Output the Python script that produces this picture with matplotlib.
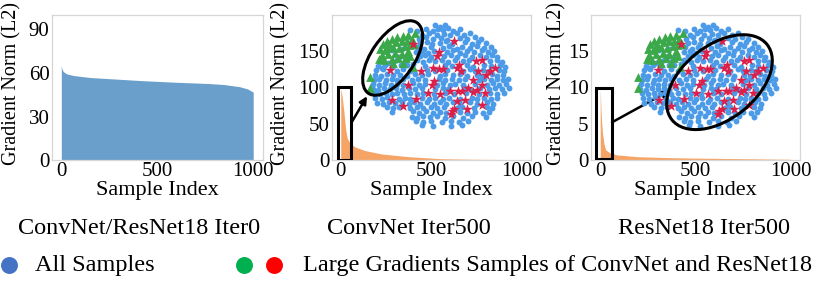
import matplotlib
matplotlib.use("Agg")
import matplotlib.pyplot as plt
from matplotlib.patches import Ellipse, Rectangle
import numpy as np

plt.rcParams['font.family'] = ['Liberation Serif', 'DejaVu Serif']

# ---------------- data ----------------
# Panel 1: sorted gradient norms at iteration 0 (ConvNet/ResNet18)
iter0_idx = [0, 3, 10, 28, 62, 149, 236, 410, 583, 757, 844, 930, 970, 999]
iter0_val = [65, 63, 61, 59.4, 58.3, 56.9, 56.2, 54.8, 53.7, 52.8, 52.1, 50.5, 49.0, 46.8]

# Panel 2: ConvNet iteration 500
conv_idx = [0, 2, 8, 18, 27, 36, 51, 79, 134, 226, 373, 557, 741, 999]
conv_val = [98, 96, 87, 65, 42, 30, 23, 18, 13, 8.3, 4.6, 1.8, 1.0, 0.5]

# Panel 3: ResNet18 iteration 500
res_idx = [0, 2, 4, 8, 12, 20, 29, 50, 88, 200, 400, 700, 999]
res_val = [9.8, 8.6, 7.0, 5.0, 3.7, 2.2, 1.4, 1.0, 0.7, 0.45, 0.3, 0.2, 0.1]

# t-SNE embedding of samples (shared by panels 2 and 3), arbitrary units
all_x = [226, 240, 256, 233,
         150, 172, 198, 218, 248, 264, 280, 300,
         186, 208, 230, 252, 270, 290, 312, 330,
         176, 197, 220, 243, 262, 300, 322, 344, 362,
         181, 200, 216, 240, 258, 276, 314, 337, 354, 378,
         172, 192, 212, 250, 268, 290, 306, 330, 350, 372, 392,
         168, 186, 205, 222, 262, 280, 300, 320, 342, 365, 385, 402,
         122, 140, 180, 196, 214, 252, 272, 292, 316, 336, 360, 378, 396, 412,
         60, 115, 134, 170, 190, 208, 226, 246, 265, 286, 310, 328, 390, 410, 425,
         55, 76, 100, 124, 160, 196, 256, 276, 320, 340, 372, 392, 420, 436,
         48, 68, 110, 130, 150, 200, 226, 262, 308, 330, 346, 370, 386, 416, 432,
         45, 62, 82, 100, 120, 140, 165, 186, 205, 240, 256, 280, 300, 320, 350, 366, 396, 412, 430,
         42, 58, 78, 95, 112, 130, 155, 175, 196, 236, 256, 276, 296, 316, 356, 371, 392, 410, 428, 443,
         40, 58, 75, 92, 110, 128, 160, 178, 196, 230, 250, 270, 286, 310, 346, 380, 398, 418, 438,
         38, 55, 72, 90, 108, 125, 146, 166, 186, 226, 250, 264, 316, 332, 360, 386, 405, 425, 446,
         42, 60, 78, 96, 112, 131, 150, 172, 190, 221, 256, 281, 318, 356, 390, 410, 431,
         45, 65, 82, 116, 136, 151, 186, 206, 224, 248, 268, 300, 336, 351, 371, 392, 412,
         50, 70, 88, 106, 126, 146, 163, 181, 200, 222, 240, 258, 280, 301, 330, 350, 381, 400,
         80, 100, 118, 150, 170, 190, 212, 232, 252, 291, 306, 341, 380, 396,
         96, 160, 178, 198, 218, 240, 258, 300, 321, 346, 370, 388,
         155, 172, 190, 210, 232, 255, 280, 310, 335, 378,
         168, 188, 212, 245, 272, 298, 325,
         185, 218, 272, 305,
         95, 125, 110, 85, 140, 65]
all_y = [20, 26, 22, 34,
         36, 40, 33, 38, 36, 30, 38, 33,
         50, 46, 50, 47, 52, 45, 50, 46,
         62, 58, 63, 60, 65, 60, 62, 57, 64,
         75, 72, 78, 74, 70, 78, 73, 77, 71, 75,
         88, 92, 86, 90, 84, 92, 87, 90, 85, 91, 86,
         102, 98, 104, 99, 103, 97, 104, 99, 102, 97, 103, 99,
         113, 117, 115, 110, 118, 114, 110, 117, 112, 116, 112, 117, 111, 116,
         128, 124, 130, 127, 131, 125, 130, 127, 132, 126, 130, 127, 129, 125, 131,
         143, 140, 145, 141, 139, 144, 140, 145, 142, 146, 140, 144, 141, 146,
         157, 153, 158, 154, 160, 156, 160, 155, 159, 153, 158, 155, 160, 156, 160,
         170, 173, 168, 172, 170, 174, 168, 172, 169, 173, 168, 172, 168, 173, 170, 174, 169, 173, 170,
         185, 182, 187, 183, 186, 182, 186, 183, 187, 183, 187, 182, 186, 183, 186, 182, 186, 183, 187, 184,
         197, 200, 196, 201, 197, 200, 196, 200, 197, 201, 196, 200, 197, 201, 197, 200, 196, 201, 198,
         212, 215, 210, 214, 211, 215, 211, 214, 210, 214, 210, 214, 211, 215, 211, 214, 210, 214, 211,
         226, 229, 224, 228, 225, 229, 225, 228, 224, 228, 225, 229, 226, 229, 225, 229, 226,
         240, 243, 238, 242, 239, 243, 239, 243, 240, 243, 239, 242, 239, 243, 239, 243, 240,
         254, 257, 252, 256, 253, 257, 253, 257, 253, 257, 253, 257, 253, 257, 253, 257, 253, 257,
         268, 271, 266, 270, 267, 271, 267, 271, 267, 271, 267, 270, 267, 271,
         283, 280, 284, 280, 284, 281, 285, 281, 285, 281, 285, 281,
         296, 299, 294, 298, 295, 299, 295, 299, 295, 298,
         310, 313, 309, 312, 309, 313, 309,
         322, 324, 323, 321,
         95, 92, 125, 135, 140, 150]

# Large-gradient samples of ConvNet (green) and ResNet18 (red) in the same embedding
conv_big_x = [165, 145, 128, 112, 95, 80, 68, 88, 108, 125, 140, 155, 60, 75, 100, 118,
              135, 150, 162, 65, 85, 105, 125, 145, 72, 95, 115, 138, 58, 100, 130, 158,
              30, 30, 150, 82]
conv_big_y = [45, 50, 55, 58, 62, 68, 78, 78, 72, 70, 68, 62, 92, 95, 88, 90,
              85, 82, 78, 110, 108, 105, 108, 100, 125, 122, 120, 120, 122, 135, 135, 148,
              178, 210, 115, 90]
res_big_x = [160, 282, 232, 236, 90, 182, 218, 238, 248, 290, 298, 302, 355, 348, 365,
             390, 405, 378, 222, 215, 340, 143, 365, 350, 325, 295, 305, 270, 240, 205,
             375, 340, 95, 168, 290, 315, 130, 365, 320, 275, 282, 272]
res_big_y = [78, 70, 113, 103, 157, 158, 150, 152, 152, 150, 140, 158, 160, 130, 125,
             160, 150, 172, 188, 200, 185, 202, 200, 215, 210, 218, 220, 218, 228, 225,
             225, 222, 245, 242, 248, 245, 263, 262, 272, 280, 272, 288]

titles = ["ConvNet/ResNet18 Iter0", "ConvNet Iter500", "ResNet18 Iter500"]
yticks = [[0, 30, 60, 90], [0, 50, 100, 150], [0, 5, 10, 15]]
ylims = [(0, 100), (0, 200), (0, 20)]
xticks = [0, 500, 1000]
legend_labels = ["All Samples", "Large Gradients Samples of ConvNet and ResNet18"]

# ---------------- figure ----------------
W, H = 830, 295
fig = plt.figure(figsize=(W / 100, H / 100), dpi=100)

def px_axes(left, top, width, height, **kw):
    return fig.add_axes([left / W, 1 - (top + height) / H, width / W, height / H], **kw)

ax_rects = [(51.7, 15, 211.3, 145), (331.7, 15, 199.3, 145), (590.7, 15, 209.3, 145)]
axes = [px_axes(*r) for r in ax_rects]

c_blue_fill = "#6A9FCB"
c_orange = "#F6A466"
c_pts = "#4C9BE8"
c_green = "#3BA84A"
c_red = "#DC1E48"

series = [(iter0_idx, iter0_val, c_blue_fill), (conv_idx, conv_val, c_orange), (res_idx, res_val, c_orange)]
ylab_x = [-0.188, -0.254, -0.161]
for i, ax in enumerate(axes):
    xs, ys, col = series[i]
    ax.fill_between(xs, 0, ys, color=col, lw=0)
    ax.set_xlim(-50, 1050)
    ax.set_ylim(*ylims[i])
    ax.set_xticks(xticks)
    ax.set_yticks(yticks[i])
    ax.tick_params(length=0, labelsize=15, pad=1.5)
    for s in ax.spines.values():
        s.set_color("#d6d6d6")
        s.set_linewidth(0.9)
    ax.set_xlabel("Sample Index", fontsize=16)
    ax.xaxis.set_label_coords(0.5, -0.207)
    ax.xaxis.label.set_va("center")
    ax.set_ylabel("Gradient Norm (L2)", fontsize=14.5)
    ax.yaxis.set_label_coords(ylab_x[i], 0.53)
    ax.yaxis.label.set_va("center")

# zoom boxes and arrows
axes[1].add_patch(Rectangle((-14, 0.5), 70, 100, fill=False, ec="black", lw=2.2, zorder=5))
axes[1].annotate("", xy=(145, 88), xytext=(60, 52),
                 arrowprops=dict(arrowstyle="-|>", color="black", lw=1.8, mutation_scale=11, shrinkA=0, shrinkB=0),
                 zorder=6)
axes[2].add_patch(Rectangle((-22, 0.1), 84, 9.85, fill=False, ec="black", lw=2.2, zorder=5))
axes[2].annotate("", xy=(367, 9.6), xytext=(62, 5.2),
                 arrowprops=dict(arrowstyle="-|>", color="black", lw=1.8, mutation_scale=11, shrinkA=0, shrinkB=0),
                 zorder=6)

# embedding insets
ell_specs = [((98, 120), 257, 128, -55.4), ((276, 192.5), 364, 221, -38.3)]
for j, left in enumerate([360, 627.5]):
    ins = px_axes(left, 18, 165, 115)
    ins.set_xlim(0, 495)
    ins.set_ylim(345, 0)
    ins.axis("off")
    ins.patch.set_alpha(0)
    ins.scatter(all_x, all_y, s=18, color=c_pts, lw=0, zorder=2)
    ins.scatter(conv_big_x, conv_big_y, s=40, marker="^", color=c_green, lw=0, zorder=3)
    ins.scatter(res_big_x, res_big_y, s=62, marker="*", color=c_red, lw=0, zorder=4)
    (cx, cy), w, h, ang = ell_specs[j]
    ins.add_patch(Ellipse((cx, cy), w, h, angle=ang, fill=False, ec="black", lw=2.2, zorder=5, clip_on=False))

# titles + legend row
ov = fig.add_axes([0, 0, 1, 1])
ov.set_xlim(0, W)
ov.set_ylim(H, 0)
ov.axis("off")
ov.patch.set_alpha(0)
for t, cx in zip(titles, [139.5, 409, 704]):
    ov.text(cx, 229, t, ha="center", va="center", fontsize=17.5)
ov.plot([9], [265], "o", ms=12.2, color="#4472C4", mew=0)
ov.text(35, 265, legend_labels[0], ha="left", va="center", fontsize=17.5)
ov.plot([244], [265], "o", ms=12.2, color="#00B050", mew=0)
ov.plot([274], [265], "o", ms=12.2, color="#FF0000", mew=0)
ov.text(303, 265, legend_labels[1], ha="left", va="center", fontsize=17.5)

fig.savefig("out.png", dpi=100)
